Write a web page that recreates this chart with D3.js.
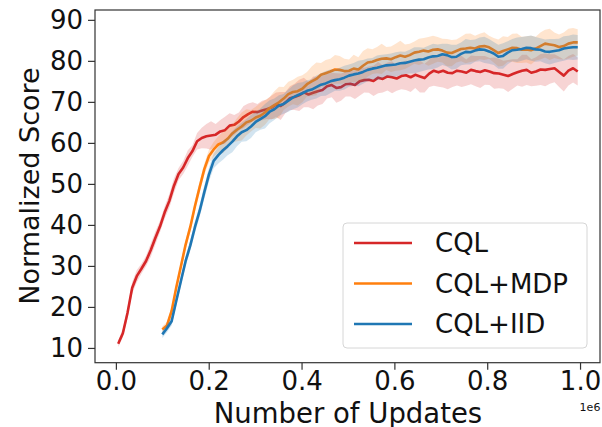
<!DOCTYPE html>
<html><head><meta charset="utf-8">
<script src="https://cdn.jsdelivr.net/npm/d3@7"></script>
<style>body{margin:0;background:#fff}svg{display:block;font-family:"DejaVu Sans",sans-serif}</style>
</head><body><svg id="c" width="602" height="427"></svg>
<script>
const seriesNames = ["CQL", "CQL+MDP", "CQL+IID"];
const seriesColors = ["#d62728", "#ff7f0e", "#1f77b4"];
const xTicks = [0, 0.2, 0.4, 0.6, 0.8, 1.0];
const yTicks = [10, 20, 30, 40, 50, 60, 70, 80, 90];

// sampling ranges (x in units of 1e6 updates): [start, end]
const cqlRange = [0.005, 0.995];
const mdpRange = [0.100, 0.995];
const iidRange = [0.100, 0.995];

const cqlY = [11.0,13.6,18.5,24.6,27.5,29.3,31.2,33.8,36.8,39.6,43.0,45.8,49.5,52.4,54.0,56.3,58.0,60.4,61.2,61.6,
  61.8,62.0,62.8,63.1,64.2,64.4,65.2,66.3,67.0,67.6,67.5,67.9,68.2,68.6,69.3,69.0,69.8,70.9,71.2,71.6,
  72.3,71.8,72.2,72.6,72.9,73.8,74.1,73.4,73.6,74.3,74.4,74.1,75.0,75.3,75.4,75.1,75.9,75.6,76.2,76.0,
  75.7,76.3,76.5,76.0,76.6,76.2,75.8,76.9,77.6,77.2,77.6,77.1,77.0,77.6,77.4,77.1,77.8,77.5,77.3,77.7,
  77.4,77.0,76.9,76.6,76.3,76.8,77.2,77.6,77.8,77.1,77.4,77.9,77.8,78.0,78.2,77.3,76.4,77.6,78.2,77.4];
const cqlSpread = [0.8,1.0,1.2,1.4,1.5,1.2,1.3,1.6,1.6,1.4,1.5,1.7,1.8,1.5,1.6,1.9,1.4,2.0,
  2.5,3.0,3.5,2.6,2.8,3.3,3.0,2.4,2.2,2.7,2.6,2.3,2.0,2.4,
  2.4,2.9,3.0,3.4,2.6,2.9,3.2,3.8,3.6,3.1,4.0,3.5,3.4,3.0,3.0,3.6,3.3,3.0,3.1,
  3.4,3.5,3.0,3.2,3.7,3.8,3.3,3.4,3.9,3.0,3.2,3.6,3.6,3.2,3.9,3.5,3.3,3.7,3.5,4.1,
  4.0,3.4,3.6,3.8,3.2,3.5,3.7,3.9,3.5,3.3,3.8,3.6,3.4,3.9,3.6,3.2,3.9,3.7,3.3,3.5,
  3.8,4.0,3.6,3.4,3.7,3.9,3.6,3.5,3.4];

const mdpY = [14.5,15.5,19.0,24.8,30.0,35.2,39.5,44.6,49.2,53.6,
  56.8,58.4,59.6,60.1,61.0,62.3,63.2,64.0,65.0,65.4,
  66.2,66.6,67.4,68.5,69.2,69.9,70.8,71.9,72.4,72.6,
  73.2,74.3,75.0,75.6,76.6,77.0,77.4,77.9,77.8,77.5,
  77.6,78.1,77.9,78.8,79.6,79.8,80.2,80.5,80.6,80.4,
  80.9,81.3,81.0,81.4,82.0,82.2,82.5,82.3,82.7,82.8,
  82.5,82.0,81.9,82.4,82.9,83.0,83.2,83.0,83.5,83.6,
  83.3,82.6,81.9,82.4,82.8,83.2,83.1,82.7,82.8,82.6,
  83.0,83.6,84.2,84.0,83.8,83.4,83.6,84.2,84.5,84.5];
const mdpSpread = [0.8,0.9,1.0,1.0,1.1,1.1,1.2,1.2,1.3,1.4,
  1.6,1.8,2.0,2.6,2.4,2.2,2.8,3.4,3.2,2.6,
  2.6,3.1,3.0,2.7,3.4,3.8,2.8,3.0,3.0,3.5,
  3.3,3.0,3.6,4.0,2.9,3.2,3.1,3.5,3.4,3.0,
  2.7,3.4,3.0,3.6,3.5,3.0,3.2,3.7,2.8,3.1,
  3.3,3.6,3.0,2.8,2.7,3.2,3.1,3.5,3.4,3.0,
  2.9,3.3,3.2,2.8,3.0,3.6,3.5,3.1,3.1,3.4,
  2.8,3.0,3.3,3.6,3.0,3.4,3.6,3.2,3.2,3.5,
  2.9,3.3,3.4,3.8,3.1,3.0,3.3,3.6,3.5,3.2];

const iidY = [13.3,14.8,16.5,21.5,26.4,31.2,35.0,39.5,43.4,48.0,
  52.3,55.6,57.0,58.2,59.2,60.3,61.6,62.6,63.1,64.0,
  65.1,65.8,66.5,67.6,68.2,69.1,69.5,70.3,71.1,71.6,
  72.1,72.7,73.0,73.6,74.2,74.5,75.0,75.3,75.5,75.9,
  76.4,76.7,76.9,77.3,77.8,78.1,78.3,78.6,78.9,79.0,
  79.1,79.4,79.5,79.8,80.1,80.3,80.4,80.8,81.1,81.2,
  81.6,81.4,80.9,81.0,81.7,82.2,82.1,82.5,82.8,82.7,
  82.3,81.8,81.0,81.2,82.0,82.6,82.7,82.9,83.2,83.1,
  82.8,82.7,82.3,82.2,82.4,82.6,83.0,83.2,83.3,83.3];
const iidSpread = [0.9,1.0,1.0,1.1,1.2,1.2,1.3,1.4,1.5,1.6,
  1.7,1.8,2.0,2.3,2.2,2.6,2.4,2.3,2.7,2.8,
  2.5,2.6,3.0,2.8,2.6,2.5,2.4,2.7,2.9,3.0,
  2.7,2.6,2.5,2.8,2.8,3.0,2.9,2.6,2.8,2.9,
  2.7,2.8,3.1,2.9,2.8,2.6,3.0,2.9,2.7,2.8,
  3.0,2.9,2.7,2.9,3.2,3.0,2.8,2.9,3.1,2.8,
  2.6,2.8,3.0,2.9,2.8,3.1,3.0,2.7,2.9,3.2,
  3.0,2.8,2.9,3.1,2.8,2.7,3.0,2.9,2.8,3.1,
  3.0,2.8,2.9,3.1,2.9,2.8,3.0,2.9,3.1,3.0];

const ranges = [cqlRange, mdpRange, iidRange];
const ys = [cqlY, mdpY, iidY], ss = [cqlSpread, mdpSpread, iidSpread];

const svg = d3.select("#c");
const L = 95, R = 600, T = 10, B = 362.7;
const x = d3.scaleLinear().domain([-0.045, 1.043]).range([L, R]);
const y = d3.scaleLinear().domain([6.4, 92.4]).range([B, T]);

const plot = svg.append("g");
seriesNames.forEach((name, i) => {
  const vals = ys[i], n = vals.length;
  const grid = d3.scaleLinear().domain([0, n - 1]).range(ranges[i]);
  const pts = vals.map((v, k) => ({x: grid(k), y: v, s: ss[i][Math.min(k, ss[i].length - 1)]}));
  plot.append("path").datum(pts)
    .attr("fill", seriesColors[i]).attr("fill-opacity", 0.2).attr("stroke", "none")
    .attr("d", d3.area().x(d => x(d.x)).y0(d => y(d.y - d.s)).y1(d => y(d.y + d.s)));
  plot.append("path").datum(pts)
    .attr("fill", "none").attr("stroke", seriesColors[i]).attr("stroke-width", 2.6)
    .attr("stroke-linejoin", "round")
    .attr("d", d3.line().x(d => x(d.x)).y(d => y(d.y)));
});

// frame
svg.append("rect").attr("x", L).attr("y", T).attr("width", R - L).attr("height", B - T)
  .attr("fill", "none").attr("stroke", "#333").attr("stroke-width", 1.2);

const fs = 26;
const gx = svg.append("g").attr("transform", `translate(0,${B})`)
  .call(d3.axisBottom(x).tickValues(xTicks).tickFormat(d3.format(".1f")).tickSize(7).tickPadding(2));
const gy = svg.append("g").attr("transform", `translate(${L},0)`)
  .call(d3.axisLeft(y).tickValues(yTicks).tickFormat(d3.format("d")).tickSize(7).tickPadding(5));
[gx, gy].forEach(g => {
  g.select(".domain").remove();
  g.selectAll(".tick line").attr("stroke", "#333").attr("stroke-width", 1.2);
  g.selectAll(".tick text").attr("fill", "#111").style("font-size", fs + "px").style("font-family", "DejaVu Sans");
});

svg.append("text").attr("x", 348).attr("y", 422.5).attr("text-anchor", "middle")
  .style("font-size", "27.5px").attr("fill", "#111").text("Number of Updates");
svg.append("text").attr("transform", "translate(39,186) rotate(-90)").attr("text-anchor", "middle")
  .style("font-size", "27px").attr("fill", "#111").text("Normalized Score");
svg.append("text").attr("x", 590).attr("y", 411).attr("text-anchor", "middle")
  .style("font-size", "11px").attr("fill", "#111").text("1e6");

// legend
const lg = svg.append("g");
lg.append("rect").attr("x", 343).attr("y", 223).attr("width", 244).attr("height", 125).attr("rx", 4)
  .attr("fill", "#fff").attr("fill-opacity", 0.8).attr("stroke", "#d6d6d6").attr("stroke-width", 1);
seriesNames.forEach((name, i) => {
  const yy = 243 + i * 40.5;
  lg.append("line").attr("x1", 354).attr("x2", 412).attr("y1", yy).attr("y2", yy)
    .attr("stroke", seriesColors[i]).attr("stroke-width", 2.6);
  lg.append("text").attr("x", 435).attr("y", yy).attr("dy", "0.36em")
    .style("font-size", "26px").attr("fill", "#111").text(name);
});
</script></body></html>
